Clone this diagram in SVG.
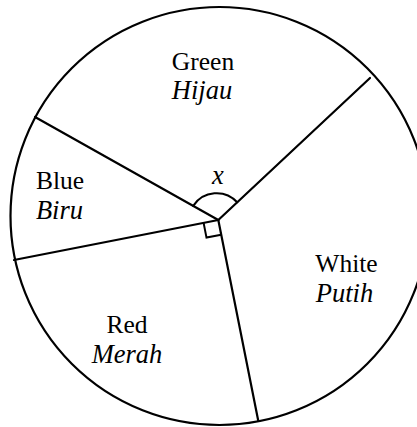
<svg xmlns="http://www.w3.org/2000/svg" width="417" height="427" viewBox="0 0 417 427">
<style>
.ln{stroke:#000;stroke-width:2.2;fill:none;stroke-linecap:round}
.t{font-family:"Liberation Serif","Times New Roman",serif;font-size:25.5px;fill:#000;text-anchor:middle}
.i{font-style:italic;font-size:26.5px}
</style>
<rect width="417" height="427" fill="#fff"/>
<g id="circle"><circle class="ln" cx="219.5" cy="216" r="209"/></g>
<g id="connectors">
<line class="ln" x1="218.3" y1="220" x2="35" y2="117"/>
<line class="ln" x1="218.3" y1="220" x2="370" y2="78"/>
<line class="ln" x1="218.3" y1="220" x2="14" y2="260"/>
<line class="ln" x1="218.3" y1="220" x2="258.3" y2="421"/>
<path class="ln" d="M193.2,205.9 A28,28 0 0 1 237.2,202.3" style="stroke-width:2"/>
<path class="ln" d="M203.6,222.9 L206.5,237.6 L221.2,234.7" style="stroke-width:2;stroke-linecap:butt"/>
</g>
<g id="green"><text class="t" x="203" y="70">Green</text><text class="t i" x="202" y="99">Hijau</text></g>
<g id="blue"><text class="t" x="60" y="189">Blue</text><text class="t i" x="59.5" y="219">Biru</text></g>
<g id="white"><text class="t" x="346.5" y="272">White</text><text class="t i" x="344.5" y="302">Putih</text></g>
<g id="red"><text class="t" x="127" y="333">Red</text><text class="t i" x="127" y="363">Merah</text></g>
<g id="angle"><text class="t i" x="218" y="184">x</text></g>
</svg>
